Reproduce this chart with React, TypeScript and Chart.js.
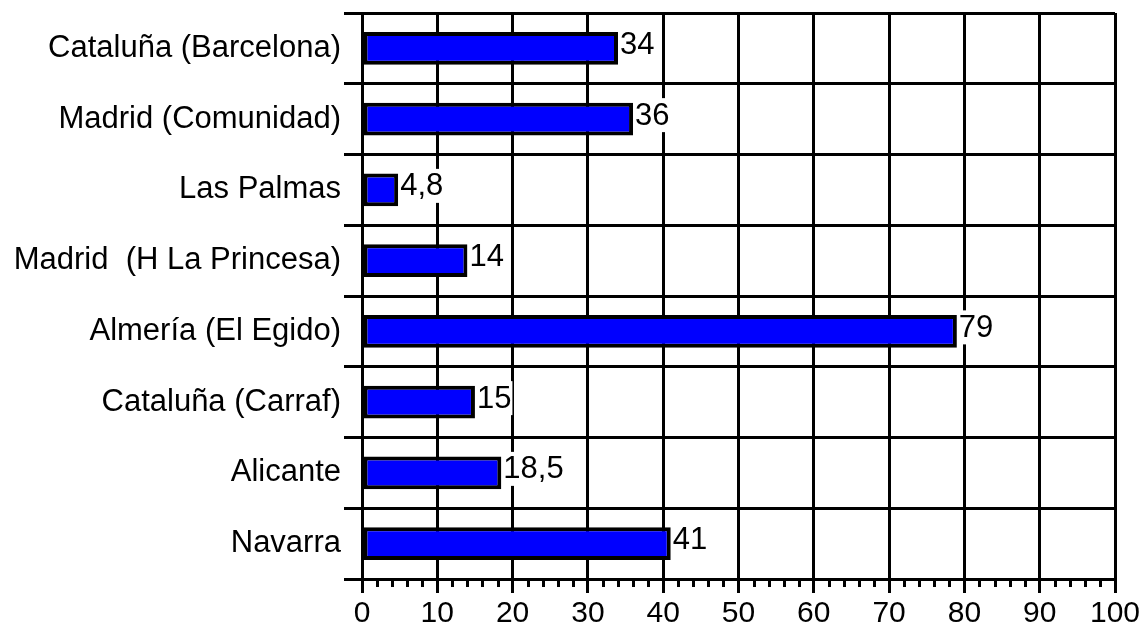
import React, { useEffect, useRef } from 'react';
import { Chart, registerables } from 'chart.js';

Chart.register(...registerables);

// Regions and their rates
const regions = [
  'Cataluña (Barcelona)',
  'Madrid (Comunidad)',
  'Las Palmas',
  'Madrid  (H La Princesa)',
  'Almería (El Egido)',
  'Cataluña (Carraf)',
  'Alicante',
  'Navarra',
];
const rates = [34, 36, 4.8, 14, 79, 15, 18.5, 41];

// Value axis range and tick spacing
const axisMin = 0;
const axisMax = 100;
const majorStep = 10;
const minorStep = 2;

const FONT = '"Liberation Sans", Arial, sans-serif';

const formatValue = (v: number) => String(v).replace('.', ',');

// Short tick marks between the labelled ticks on the value axis
const minorTicksPlugin = {
  id: 'minorTicks',
  afterDraw(chart: any) {
    const xs = chart.scales.x;
    const ctx = chart.ctx;
    ctx.save();
    ctx.strokeStyle = '#000';
    ctx.lineWidth = 3;
    for (let v = axisMin; v <= axisMax; v += minorStep) {
      if (v % majorStep === 0) continue;
      const px = Math.round(xs.getPixelForValue(v)) + 0.5;
      ctx.beginPath();
      ctx.moveTo(px, xs.top);
      ctx.lineTo(px, xs.top + 8);
      ctx.stroke();
    }
    ctx.restore();
  },
};

// Value labels at the end of each bar, on a white backing
const valueLabelsPlugin = {
  id: 'valueLabels',
  afterDatasetsDraw(chart: any) {
    const ctx = chart.ctx;
    const meta = chart.getDatasetMeta(0);
    ctx.save();
    ctx.font = `31px ${FONT}`;
    ctx.textAlign = 'left';
    ctx.textBaseline = 'middle';
    meta.data.forEach((bar: any, i: number) => {
      const text = formatValue(rates[i]);
      const w = ctx.measureText(text).width;
      const x = bar.x + 2;
      const y = bar.y - 4;
      ctx.fillStyle = '#fff';
      ctx.fillRect(x, y - 17, w + 1, 34);
      ctx.fillStyle = '#000';
      ctx.fillText(text, x, y + 1);
    });
    ctx.restore();
  },
};

export default function App() {
  const canvasRef = useRef<HTMLCanvasElement | null>(null);

  useEffect(() => {
    if (!canvasRef.current) return;
    const chart = new Chart(canvasRef.current, {
      type: 'bar',
      data: {
        labels: regions,
        datasets: [
          {
            data: rates,
            backgroundColor: '#0000ff',
            borderColor: '#000000',
            borderWidth: 4,
            borderSkipped: false,
            barPercentage: 0.46,
            categoryPercentage: 1,
          },
        ],
      },
      options: {
        indexAxis: 'y',
        animation: false,
        responsive: true,
        maintainAspectRatio: false,
        layout: { padding: { top: 13, right: 28, left: 0, bottom: 0 } },
        plugins: {
          legend: { display: false },
          tooltip: { enabled: false },
        },
        scales: {
          x: {
            type: 'linear',
            position: 'bottom',
            min: axisMin,
            max: axisMax,
            ticks: {
              stepSize: majorStep,
              color: '#000',
              font: { family: FONT, size: 30 },
              padding: 3,
              maxRotation: 0,
            },
            grid: {
              color: '#000',
              lineWidth: 3,
              tickLength: 14,
              tickColor: '#000',
            },
            border: { color: '#000', width: 3 },
            afterFit: (scale: any) => {
              scale.height = 46;
              scale.paddingLeft = 0;
              scale.paddingRight = 0;
            },
          },
          y: {
            type: 'category',
            position: 'left',
            ticks: {
              color: '#000',
              font: { family: FONT, size: 31 },
              padding: 3,
            },
            grid: {
              offset: true,
              color: '#000',
              lineWidth: 3,
              tickLength: 18,
              tickColor: '#000',
            },
            border: { color: '#000', width: 3 },
            afterFit: (scale: any) => {
              scale.width = 362;
              scale.paddingTop = 0;
              scale.paddingBottom = 0;
            },
          },
        },
      },
      plugins: [minorTicksPlugin, valueLabelsPlugin],
    });
    return () => chart.destroy();
  }, []);

  return (
    <div
      style={{
        position: 'fixed',
        left: 0,
        top: 0,
        width: 1143,
        height: 625,
        background: '#fff',
      }}
    >
      <canvas ref={canvasRef} />
    </div>
  );
}
